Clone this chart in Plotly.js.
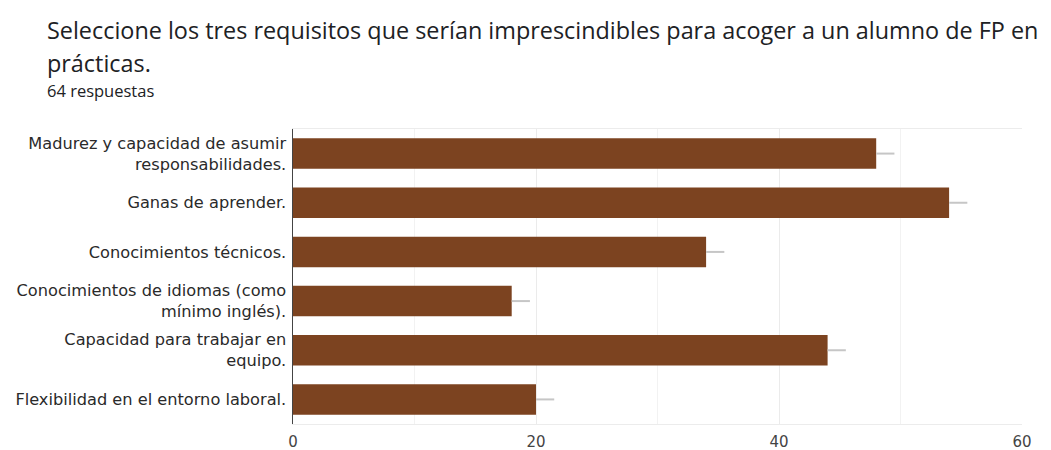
<!DOCTYPE html>
<html>
<head>
<meta charset="utf-8">
<script src="https://cdn.plot.ly/plotly-3.0.1.min.js"></script>
<style>html,body{margin:0;padding:0;background:#fff;}#chart{width:1051px;height:450px;}</style>
</head>
<body>
<div id="chart"></div>
<script>
const categories = [
  "Madurez y capacidad de asumir<br>responsabilidades.",
  "Ganas de aprender.",
  "Conocimientos técnicos.",
  "Conocimientos de idiomas (como<br>mínimo inglés).",
  "Capacidad para trabajar en<br>equipo.",
  "Flexibilidad en el entorno laboral."
];
const values = [48, 54, 34, 18, 44, 20];
const errPlus = [1.5, 1.5, 1.5, 1.5, 1.5, 1.5];
const errMinus = [0, 0, 0, 0, 0, 0];
const tickVals = [0, 20, 40, 60];
const titleLine1 = "Seleccione los tres requisitos que serían imprescindibles para acoger a un alumno de FP en";
const titleLine2 = "prácticas.";
const subtitle = "64 respuestas";

const trace = {
  type: "bar",
  orientation: "h",
  x: values,
  y: categories,
  marker: {color: "#7c4320", line: {color: "#7c4320", width: 0}},
  error_x: {type: "data", symmetric: false, array: errPlus, arrayminus: errMinus, color: "#c6c6c6", thickness: 2, width: 0},
  hoverinfo: "x+y"
};

const titleFont = {family: "Open Sans, Roboto, sans-serif", size: 23.4, color: "#202124"};
const layout = {
  width: 1051, height: 450,
  margin: {l: 293, r: 29, t: 129, b: 26},
  paper_bgcolor: "#fff", plot_bgcolor: "#fff",
  bargap: 0.38,
  showlegend: false,
  font: {family: "DejaVu Sans, sans-serif", color: "#222"},
  xaxis: {
    range: [0, 60],
    tickvals: tickVals,
    ticktext: tickVals.map(String),
    tickfont: {size: 15, color: "#444"},
    showgrid: true, gridcolor: "#ebebeb", gridwidth: 1,
    minor: {dtick: 10, showgrid: true, gridcolor: "#f2f2f2"},
    zeroline: false,
    showline: true, mirror: true, linecolor: "#ececec", linewidth: 1,
    ticks: "outside", ticklen: 4, tickcolor: "rgba(0,0,0,0)", fixedrange: true
  },
  yaxis: {
    autorange: "reversed",
    tickfont: {size: 16.2, color: "#2a2a2a"},
    showline: true, linecolor: "#444", linewidth: 1.5,
    showgrid: false, zeroline: false,
    ticks: "outside", ticklen: 2, tickcolor: "rgba(0,0,0,0)",
    fixedrange: true
  },
  annotations: [
    {text: titleLine1, xref: "paper", yref: "paper", x: -248/729, y: 1, xanchor: "left", yanchor: "middle",
     showarrow: false, font: titleFont, yshift: 99},
    {text: titleLine2, xref: "paper", yref: "paper", x: -248/729, y: 1, xanchor: "left", yanchor: "middle",
     showarrow: false, font: titleFont, yshift: 66},
    {text: subtitle, xref: "paper", yref: "paper", x: -248/729, y: 1, xanchor: "left", yanchor: "middle",
     showarrow: false, font: {family: "Open Sans, Roboto, sans-serif", size: 16.5, color: "#202124"},
     yshift: 39}
  ]
};

Plotly.newPlot("chart", [trace], layout, {displayModeBar: false, staticPlot: true});
</script>
</body>
</html>
